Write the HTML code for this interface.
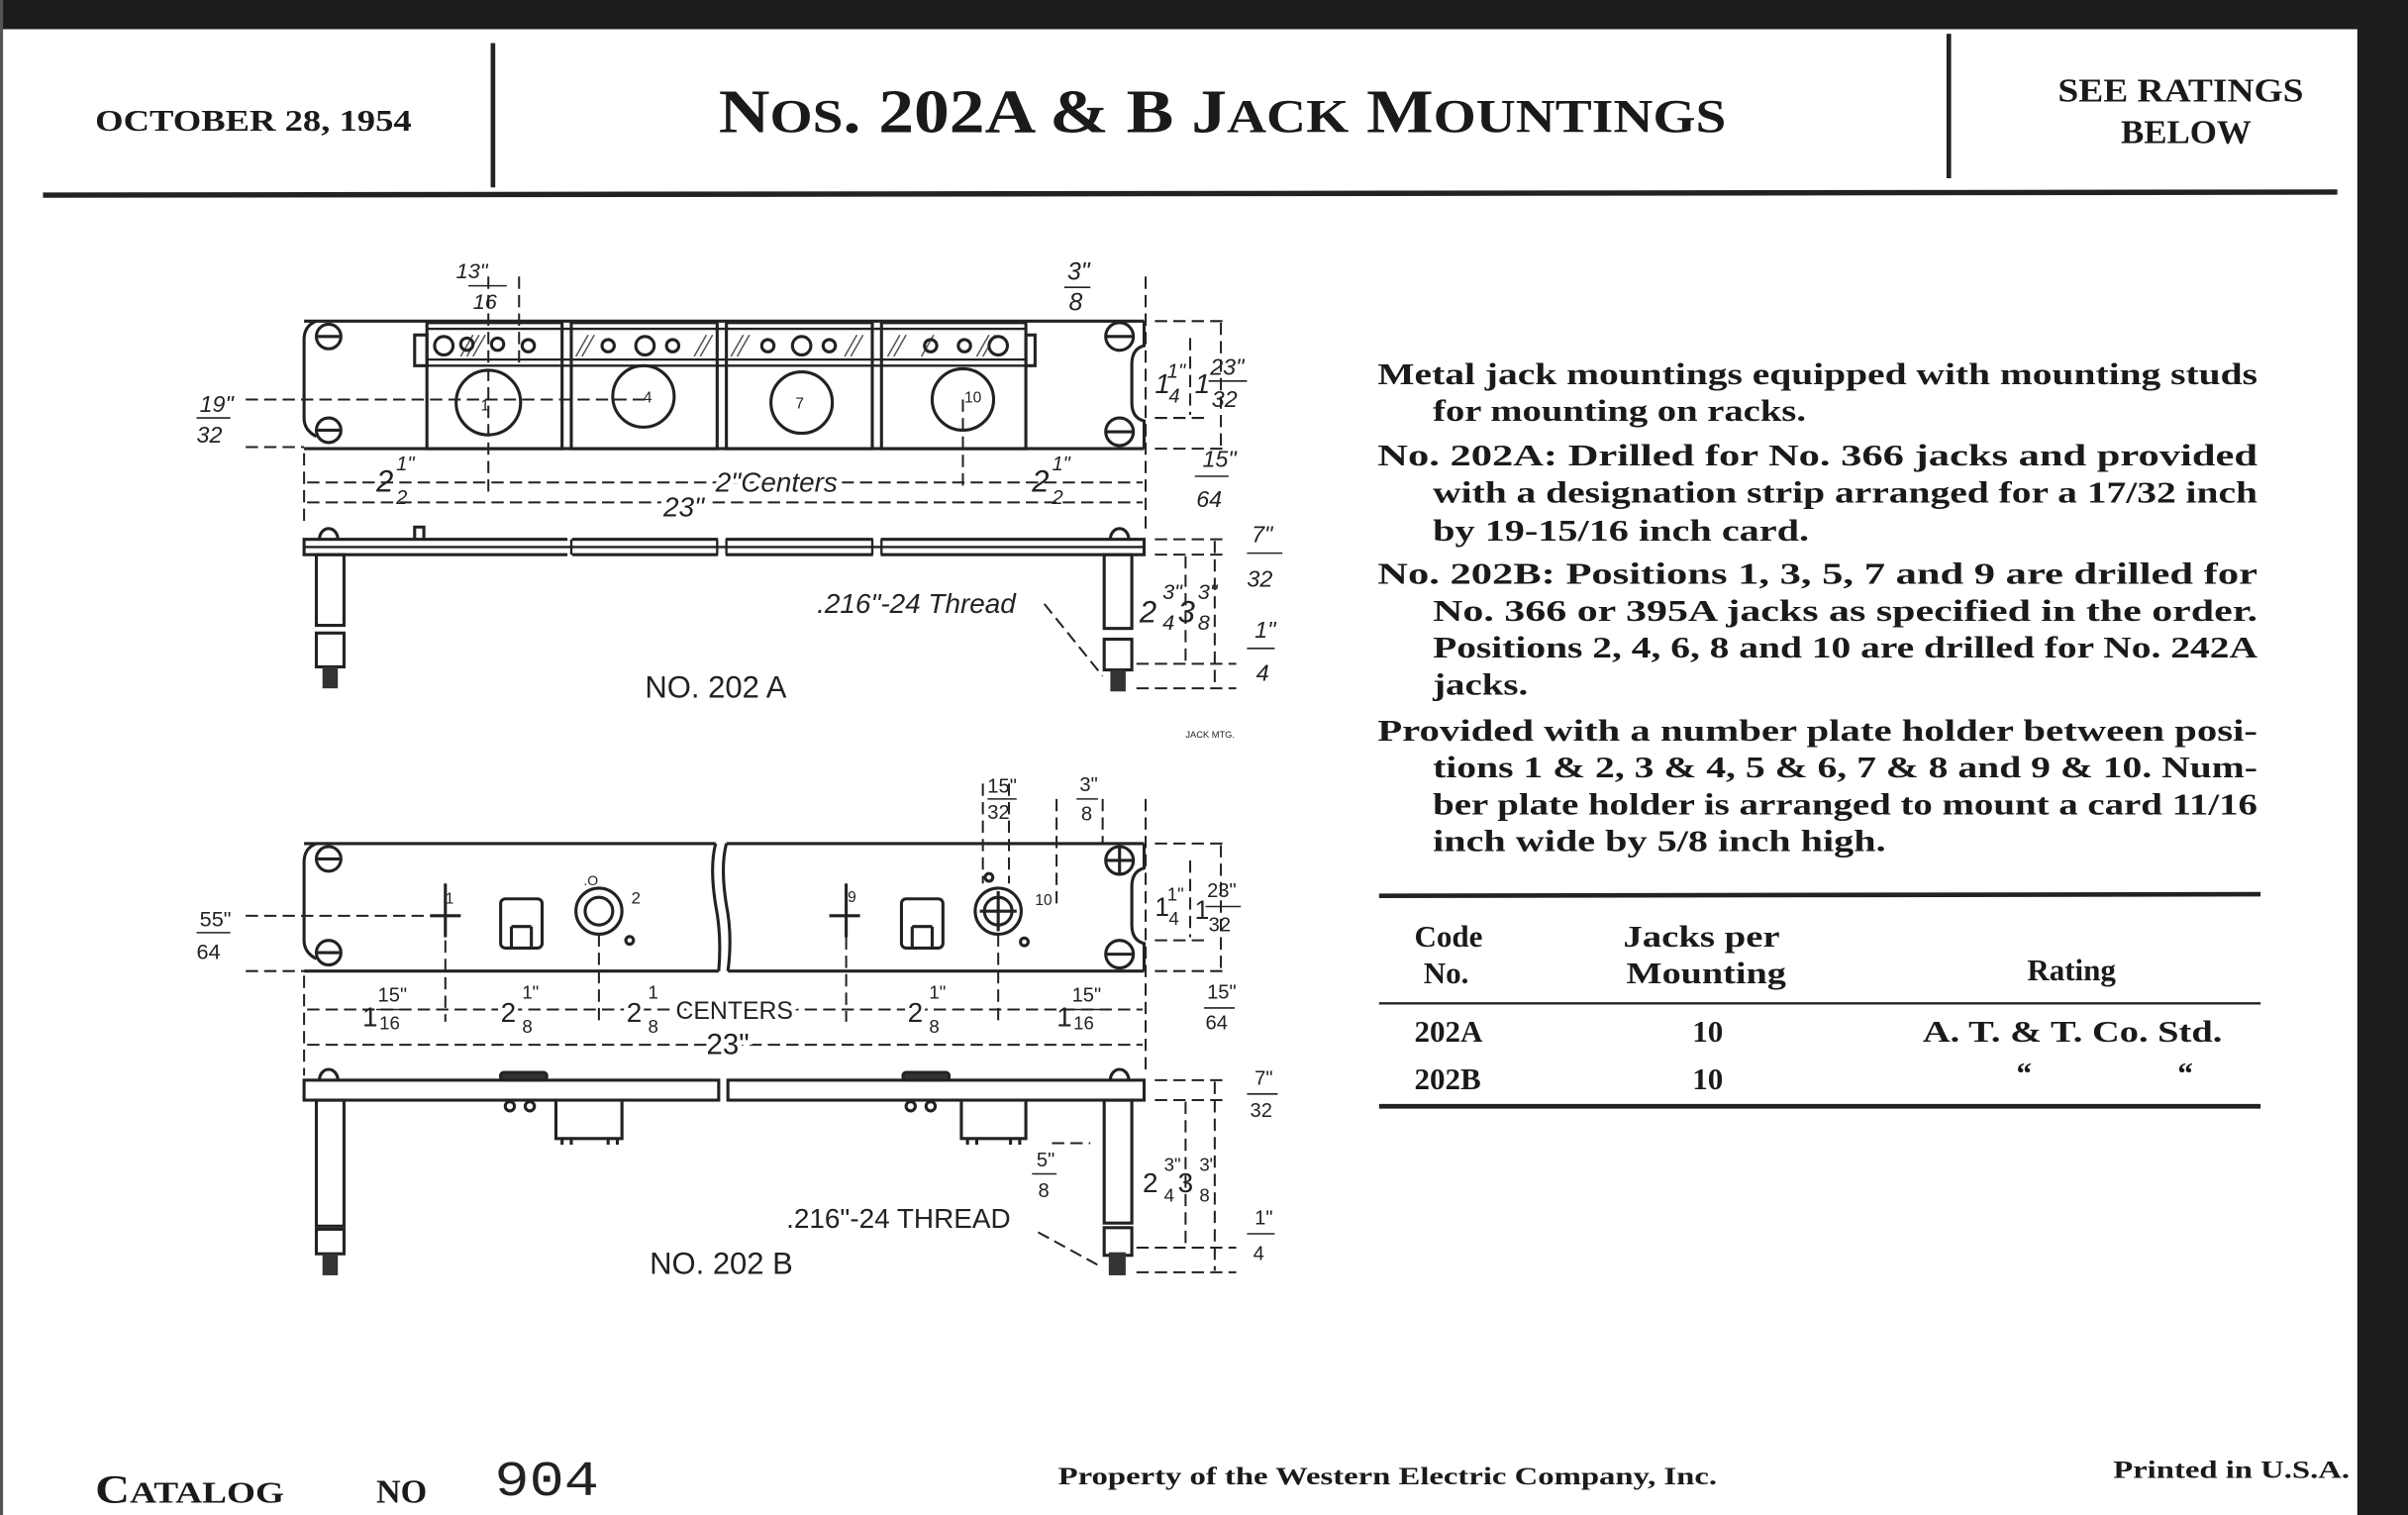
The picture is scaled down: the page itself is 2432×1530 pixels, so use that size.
<!DOCTYPE html>
<html><head><meta charset="utf-8"><style>
html,body{margin:0;padding:0;background:#fff;}
svg{display:block;}
.s{font-family:"Liberation Serif",serif;font-weight:bold;fill:#1a1a1a;}
.d{font-family:"Liberation Sans",sans-serif;fill:#222;}
.i{font-family:"Liberation Sans",sans-serif;font-style:italic;fill:#222;}
</style></head><body>
<svg width="2432" height="1530" viewBox="0 0 1568 986" preserveAspectRatio="none" xmlns="http://www.w3.org/2000/svg">
<rect width="1568" height="986" fill="#fff"/>
<rect x="0" y="0" width="1568" height="19" fill="#1c1c1c"/>
<rect x="1535" y="0" width="33" height="986" fill="#1c1c1c"/>
<rect x="0" y="0" width="2" height="986" fill="#555"/>

<!-- header -->
<text x="62" y="85" class="s" font-size="20" textLength="206" lengthAdjust="spacingAndGlyphs">OCTOBER 28, 1954</text>
<line x1="321" y1="28" x2="321" y2="122" stroke="#222" stroke-width="3"/>
<text x="468" y="86" class="s" font-size="40" textLength="656" lengthAdjust="spacingAndGlyphs">N<tspan font-size="31">OS</tspan>. 202A &amp; B J<tspan font-size="31">ACK</tspan> M<tspan font-size="31">OUNTINGS</tspan></text>
<line x1="1269" y1="22" x2="1269" y2="116" stroke="#222" stroke-width="3"/>
<text x="1340" y="66" class="s" font-size="22" textLength="160" lengthAdjust="spacingAndGlyphs">SEE RATINGS</text>
<text x="1381" y="93" class="s" font-size="22" textLength="85" lengthAdjust="spacingAndGlyphs">BELOW</text>
<line x1="28" y1="127" x2="1522" y2="125" stroke="#222" stroke-width="3.5"/>

<!-- description -->
<g class="s" font-size="20">
<text x="897" y="250" textLength="573" lengthAdjust="spacingAndGlyphs">Metal jack mountings equipped with mounting studs</text>
<text x="933" y="274" textLength="243" lengthAdjust="spacingAndGlyphs">for mounting on racks.</text>
<text x="897" y="303" textLength="573" lengthAdjust="spacingAndGlyphs">No. 202A:  Drilled for No. 366 jacks and provided</text>
<text x="933" y="327" textLength="537" lengthAdjust="spacingAndGlyphs">with a designation strip arranged for a 17/32 inch</text>
<text x="933" y="352" textLength="245" lengthAdjust="spacingAndGlyphs">by 19-15/16 inch card.</text>
<text x="897" y="380" textLength="573" lengthAdjust="spacingAndGlyphs">No. 202B:  Positions 1, 3, 5, 7 and 9 are drilled for</text>
<text x="933" y="404" textLength="537" lengthAdjust="spacingAndGlyphs">No. 366 or 395A jacks as specified in the order.</text>
<text x="933" y="428" textLength="537" lengthAdjust="spacingAndGlyphs">Positions 2, 4, 6, 8 and 10 are drilled for No. 242A</text>
<text x="933" y="452" textLength="62" lengthAdjust="spacingAndGlyphs">jacks.</text>
<text x="897" y="482" textLength="573" lengthAdjust="spacingAndGlyphs">Provided with a number plate holder between posi-</text>
<text x="933" y="506" textLength="537" lengthAdjust="spacingAndGlyphs">tions 1 &amp; 2, 3 &amp; 4, 5 &amp; 6, 7 &amp; 8 and 9 &amp; 10.  Num-</text>
<text x="933" y="530" textLength="537" lengthAdjust="spacingAndGlyphs">ber plate holder is arranged to mount a card 11/16</text>
<text x="933" y="554" textLength="295" lengthAdjust="spacingAndGlyphs">inch wide by 5/8 inch high.</text>
</g>

<!-- table -->
<line x1="898" y1="583" x2="1472" y2="582" stroke="#222" stroke-width="3"/>
<g class="s" font-size="20">
<text x="921" y="616">Code</text><text x="927" y="640">No.</text>
<text x="1057" y="616" textLength="102" lengthAdjust="spacingAndGlyphs">Jacks per</text><text x="1059" y="640" textLength="104" lengthAdjust="spacingAndGlyphs">Mounting</text>
<text x="1320" y="638">Rating</text>
<text x="921" y="678">202A</text><text x="1102" y="678">10</text><text x="1252" y="678" textLength="195" lengthAdjust="spacingAndGlyphs">A. T. &amp; T. Co. Std.</text>
<text x="921" y="709">202B</text><text x="1102" y="709">10</text><text x="1313" y="705">“</text><text x="1418" y="705">“</text>
</g>
<line x1="898" y1="653" x2="1472" y2="653" stroke="#222" stroke-width="1.5"/>
<line x1="898" y1="720" x2="1472" y2="720" stroke="#222" stroke-width="3"/>

<!-- footer -->
<text x="62" y="978" class="s" font-size="26" textLength="123" lengthAdjust="spacingAndGlyphs">C<tspan font-size="20">ATALOG</tspan></text>
<text x="245" y="978" class="s" font-size="22" font-family="Liberation Mono">NO</text>
<text x="322" y="973" font-family="Liberation Mono" font-size="32" fill="#222" textLength="68" lengthAdjust="spacingAndGlyphs">904</text>
<text x="689" y="966" class="s" font-size="16.5" textLength="429" lengthAdjust="spacingAndGlyphs">Property of the Western Electric Company, Inc.</text>
<text x="1376" y="962" class="s" font-size="16.5" textLength="154" lengthAdjust="spacingAndGlyphs">Printed in U.S.A.</text>

<!-- ============ DRAWING A ============ -->
<g stroke="#222" fill="none" stroke-width="2">
<path d="M198 209 H745 M198 292 H745"/>
<path d="M206 209 q-8 3 -8 12 V272 q0 8 8 12"/>
<path d="M745 209 V225 q-8 2 -8 12 V262 q0 10 8 12 V292"/>
<circle cx="214" cy="219" r="8"/><line x1="207" y1="219" x2="221" y2="219"/>
<circle cx="214" cy="280" r="8"/><line x1="207" y1="280" x2="221" y2="280"/>
<circle cx="729" cy="219" r="9"/><line x1="720" y1="219" x2="738" y2="219"/>
<circle cx="729" cy="281" r="9"/><line x1="720" y1="281" x2="738" y2="281"/>
<rect x="278" y="210" width="88" height="82"/>
<rect x="372" y="210" width="95" height="82"/>
<rect x="473" y="210" width="95" height="82"/>
<rect x="574" y="210" width="94" height="82"/>
<rect x="270" y="218" width="8" height="20"/>
<rect x="668" y="218" width="6" height="20"/>
<g stroke-width="1.5">
<line x1="278" y1="214" x2="668" y2="214"/><line x1="278" y1="234" x2="668" y2="234"/><line x1="278" y1="238" x2="668" y2="238"/>
</g>
<g stroke-width="1" stroke="#555">
<path d="M300 232 l8 -14 M304 232 l8 -14 M308 232 l8 -14 M375 232 l8 -14 M379 232 l8 -14 M452 232 l8 -14 M456 232 l8 -14 M476 232 l8 -14 M480 232 l8 -14 M550 232 l8 -14 M554 232 l8 -14 M578 232 l8 -14 M582 232 l8 -14 M600 232 l8 -14 M636 232 l8 -14 M640 232 l8 -14"/>
</g>
<circle cx="289" cy="225" r="6"/><circle cx="304" cy="224" r="4"/><circle cx="324" cy="224" r="4"/><circle cx="344" cy="225" r="4"/>
<circle cx="396" cy="225" r="4"/><circle cx="420" cy="225" r="6"/><circle cx="438" cy="225" r="4"/>
<circle cx="500" cy="225" r="4"/><circle cx="522" cy="225" r="6"/><circle cx="540" cy="225" r="4"/>
<circle cx="606" cy="225" r="4"/><circle cx="628" cy="225" r="4"/><circle cx="650" cy="225" r="6"/>
<circle cx="318" cy="262" r="21"/><circle cx="419" cy="258" r="20"/><circle cx="522" cy="262" r="20"/><circle cx="627" cy="260" r="20"/>
<rect x="198" y="351" width="547" height="10"/>
<path d="M208 351 a6 7 0 0 1 12 0 M723 351 a6 7 0 0 1 12 0 M270 351 v-8 h6 v8"/>
<rect x="206" y="361" width="18" height="46"/><rect x="206" y="412" width="18" height="22"/>
<rect x="719" y="361" width="18" height="48"/><rect x="719" y="416" width="18" height="20"/>
</g>
<rect x="210" y="434" width="10" height="14" fill="#333"/>
<rect x="723" y="436" width="10" height="14" fill="#333"/>
<g fill="#fff" stroke="#fff"><rect x="370" y="345" width="2" height="18"/><rect x="468" y="345" width="4" height="18"/><rect x="569" y="345" width="4" height="18"/></g>
<g stroke="#222" fill="none" stroke-width="1.5"><path d="M372 351 v10 M467 351 v10 M473 351 v10 M568 351 v10 M574 351 v10 M198 356 H745"/></g>

<g stroke="#222" fill="none" stroke-width="1.3" stroke-dasharray="8 4">
<line x1="160" y1="260" x2="420" y2="260"/>
<line x1="160" y1="291" x2="198" y2="291"/>
<line x1="198" y1="295" x2="198" y2="340"/>
<line x1="746" y1="180" x2="746" y2="345"/>
<line x1="318" y1="180" x2="318" y2="320"/>
<line x1="338" y1="180" x2="338" y2="240"/>
<line x1="627" y1="260" x2="627" y2="320"/>
<line x1="200" y1="314" x2="744" y2="314"/>
<line x1="200" y1="327" x2="744" y2="327"/>
<line x1="752" y1="209" x2="800" y2="209"/>
<line x1="752" y1="272" x2="785" y2="272"/>
<line x1="752" y1="292" x2="800" y2="292"/>
<line x1="752" y1="351" x2="800" y2="351"/>
<line x1="752" y1="361" x2="800" y2="361"/>
<line x1="740" y1="432" x2="805" y2="432"/>
<line x1="740" y1="448" x2="805" y2="448"/>
<line x1="795" y1="210" x2="795" y2="290"/>
<line x1="775" y1="220" x2="775" y2="270"/>
<line x1="791" y1="352" x2="791" y2="447"/>
<line x1="772" y1="362" x2="772" y2="431"/>
<line x1="680" y1="393" x2="718" y2="440"/>
</g>
<g fill="#222" font-size="20">
<text x="130" y="268" class="i" font-size="15">19"</text><text x="128" y="288" class="i" font-size="15">32</text>
<line x1="128" y1="272" x2="150" y2="272" stroke="#222"/>
<text x="297" y="181" class="i" font-size="14">13"</text><line x1="305" y1="186" x2="330" y2="186" stroke="#222"/><text x="308" y="201" class="i" font-size="14">16</text>
<text x="695" y="182" class="i" font-size="16">3"</text><line x1="693" y1="187" x2="710" y2="187" stroke="#222"/><text x="696" y="202" class="i" font-size="16">8</text>
<text x="245" y="320" class="i" font-size="20">2</text><text x="258" y="306" class="i" font-size="13">1"</text><text x="258" y="328" class="i" font-size="13">2</text>
<text x="466" y="320" class="i" font-size="18" fill="#222" stroke="#fff" stroke-width="6" paint-order="stroke">2"Centers</text>
<text x="432" y="336" class="i" font-size="18" stroke="#fff" stroke-width="6" paint-order="stroke">23"</text>
<text x="672" y="320" class="i" font-size="20">2</text><text x="685" y="306" class="i" font-size="13">1"</text><text x="685" y="328" class="i" font-size="13">2</text>
<text x="752" y="256" class="i" font-size="18">1</text><text x="760" y="246" class="i" font-size="13">1"</text><text x="761" y="262" class="i" font-size="13">4</text>
<text x="778" y="256" class="i" font-size="18">1</text><text x="788" y="244" class="i" font-size="15">23"</text><line x1="787" y1="248" x2="812" y2="248" stroke="#222"/><text x="789" y="265" class="i" font-size="15">32</text>
<text x="783" y="304" class="i" font-size="15">15"</text><line x1="778" y1="310" x2="800" y2="310" stroke="#222"/><text x="779" y="330" class="i" font-size="15">64</text>
<text x="815" y="353" class="i" font-size="15">7"</text><line x1="812" y1="360" x2="835" y2="360" stroke="#222"/><text x="812" y="382" class="i" font-size="15">32</text>
<text x="742" y="405" class="i" font-size="20">2</text><text x="757" y="390" class="i" font-size="14">3"</text><text x="757" y="410" class="i" font-size="14">4</text>
<text x="767" y="405" class="i" font-size="20">3</text><text x="780" y="390" class="i" font-size="14">3"</text><text x="780" y="410" class="i" font-size="14">8</text>
<text x="817" y="415" class="i" font-size="15">1"</text><line x1="812" y1="422" x2="830" y2="422" stroke="#222"/><text x="818" y="443" class="i" font-size="15">4</text>
<text x="532" y="399" class="i" font-size="18">.216"-24 Thread</text>
<text x="420" y="454" class="d" font-size="20">NO. 202 A</text>
<text x="772" y="480" class="d" font-size="6">JACK MTG.</text>
<text x="313" y="267" class="d" font-size="10">1</text><text x="419" y="262" class="d" font-size="10">4</text><text x="518" y="266" class="d" font-size="10">7</text><text x="628" y="262" class="d" font-size="10">10</text>
</g>

<!-- ============ DRAWING B ============ -->
<g stroke="#222" fill="none" stroke-width="2">
<path d="M198 549 H466 M473 549 H745 M198 632 H468 M474 632 H745"/>
<path d="M466 549 q-4 15 0 40 q4 20 2 43 M473 549 q-4 15 0 40 q4 20 1 43"/>
<path d="M206 549 q-8 3 -8 12 V612 q0 8 8 12"/>
<path d="M745 549 V565 q-8 2 -8 12 V602 q0 10 8 12 V632"/>
<circle cx="214" cy="559" r="8"/><line x1="207" y1="559" x2="221" y2="559"/>
<circle cx="214" cy="620" r="8"/><line x1="207" y1="620" x2="221" y2="620"/>
<circle cx="729" cy="560" r="9"/><line x1="720" y1="560" x2="738" y2="560"/><line x1="729" y1="551" x2="729" y2="569"/>
<circle cx="729" cy="621" r="9"/><line x1="720" y1="621" x2="738" y2="621"/>
<rect x="326" y="585" width="27" height="32" rx="3"/><path d="M333 617 v-14 M346 617 v-14 M333 603 h13"/>
<circle cx="390" cy="593" r="15"/><circle cx="390" cy="593" r="9"/>
<rect x="587" y="585" width="27" height="32" rx="3"/><path d="M594 617 v-14 M607 617 v-14 M594 603 h13"/>
<circle cx="650" cy="593" r="15"/><circle cx="650" cy="593" r="9"/><path d="M650 580 v26 M638 593 h24"/>
<circle cx="410" cy="612" r="2.5"/><circle cx="644" cy="571" r="2.5"/><circle cx="667" cy="613" r="2.5"/>
<path d="M280 596 h20 M290 575 v35 M540 596 h20 M551 575 v35"/>
<rect x="198" y="703" width="270" height="13"/><rect x="474" y="703" width="271" height="13"/>
<path d="M208 703 a6 7 0 0 1 12 0 M723 703 a6 7 0 0 1 12 0"/>
<rect x="326" y="698" width="30" height="5" rx="2" fill="#333"/><rect x="588" y="698" width="30" height="5" rx="2" fill="#333"/>
<circle cx="332" cy="720" r="3"/><circle cx="345" cy="720" r="3"/><circle cx="593" cy="720" r="3"/><circle cx="606" cy="720" r="3"/>
<path d="M362 716 V741 H405 V716 M626 716 V741 H668 V716"/>
<path d="M366 741 v4 M372 741 v4 M396 741 v4 M402 741 v4 M630 741 v4 M636 741 v4 M658 741 v4 M664 741 v4"/>
<rect x="206" y="716" width="18" height="82"/><rect x="206" y="800" width="18" height="16"/>
<rect x="719" y="716" width="18" height="80"/><rect x="719" y="799" width="18" height="18"/>
</g>
<rect x="210" y="816" width="10" height="14" fill="#333"/>
<rect x="722" y="815" width="11" height="15" fill="#333"/>

<g stroke="#222" fill="none" stroke-width="1.3" stroke-dasharray="8 4">
<line x1="160" y1="596" x2="280" y2="596"/>
<line x1="160" y1="632" x2="198" y2="632"/>
<line x1="198" y1="635" x2="198" y2="700"/>
<line x1="746" y1="520" x2="746" y2="700"/>
<line x1="290" y1="612" x2="290" y2="665"/>
<line x1="390" y1="608" x2="390" y2="665"/>
<line x1="551" y1="610" x2="551" y2="665"/>
<line x1="650" y1="608" x2="650" y2="665"/>
<line x1="200" y1="657" x2="744" y2="657"/>
<line x1="200" y1="680" x2="744" y2="680"/>
<line x1="640" y1="510" x2="640" y2="575"/>
<line x1="657" y1="510" x2="657" y2="575"/>
<line x1="688" y1="520" x2="688" y2="590"/>
<line x1="718" y1="520" x2="718" y2="550"/>
<line x1="752" y1="549" x2="800" y2="549"/>
<line x1="752" y1="612" x2="785" y2="612"/>
<line x1="752" y1="632" x2="800" y2="632"/>
<line x1="752" y1="703" x2="800" y2="703"/>
<line x1="752" y1="716" x2="800" y2="716"/>
<line x1="740" y1="812" x2="805" y2="812"/>
<line x1="740" y1="828" x2="805" y2="828"/>
<line x1="795" y1="550" x2="795" y2="630"/>
<line x1="775" y1="560" x2="775" y2="610"/>
<line x1="791" y1="704" x2="791" y2="827"/>
<line x1="772" y1="717" x2="772" y2="811"/>
<line x1="676" y1="802" x2="718" y2="825"/>
<line x1="685" y1="744" x2="710" y2="744"/>
</g>
<g fill="#222">
<line x1="128" y1="607" x2="150" y2="607" stroke="#222"/>
<text x="130" y="603" class="d" font-size="14">55"</text><text x="128" y="624" class="d" font-size="14">64</text>
<text x="236" y="668" class="d" font-size="18">1</text><text x="246" y="652" class="d" font-size="13">15"</text><line x1="245" y1="657" x2="263" y2="657" stroke="#222"/><text x="247" y="670" class="d" font-size="12">16</text>
<text x="326" y="665" class="d" font-size="18" stroke="#fff" stroke-width="5" paint-order="stroke">2</text><text x="340" y="650" class="d" font-size="12">1"</text><text x="340" y="672" class="d" font-size="12">8</text>
<text x="408" y="665" class="d" font-size="18" stroke="#fff" stroke-width="5" paint-order="stroke">2</text><text x="422" y="650" class="d" font-size="12">1</text><text x="422" y="672" class="d" font-size="12">8</text>
<text x="440" y="663" class="d" font-size="16" stroke="#fff" stroke-width="6" paint-order="stroke">CENTERS</text>
<text x="591" y="665" class="d" font-size="18" stroke="#fff" stroke-width="5" paint-order="stroke">2</text><text x="605" y="650" class="d" font-size="12">1"</text><text x="605" y="672" class="d" font-size="12">8</text>
<text x="688" y="668" class="d" font-size="18">1</text><text x="698" y="652" class="d" font-size="13">15"</text><line x1="697" y1="657" x2="716" y2="657" stroke="#222"/><text x="699" y="670" class="d" font-size="12">16</text>
<text x="460" y="686" class="d" font-size="19" stroke="#fff" stroke-width="6" paint-order="stroke">23"</text>
<text x="643" y="516" class="d" font-size="13">15"</text><line x1="643" y1="520" x2="662" y2="520" stroke="#222"/><text x="643" y="533" class="d" font-size="13">32</text>
<text x="703" y="515" class="d" font-size="13">3"</text><line x1="701" y1="520" x2="715" y2="520" stroke="#222"/><text x="704" y="534" class="d" font-size="13">8</text>
<text x="752" y="596" class="d" font-size="17">1</text><text x="760" y="586" class="d" font-size="12">1"</text><text x="761" y="602" class="d" font-size="12">4</text>
<text x="778" y="598" class="d" font-size="17">1</text><text x="786" y="584" class="d" font-size="13">23"</text><line x1="785" y1="590" x2="808" y2="590" stroke="#222"/><text x="787" y="606" class="d" font-size="13">32</text>
<text x="786" y="650" class="d" font-size="13">15"</text><line x1="784" y1="656" x2="804" y2="656" stroke="#222"/><text x="785" y="670" class="d" font-size="13">64</text>
<text x="817" y="706" class="d" font-size="13">7"</text><line x1="812" y1="712" x2="832" y2="712" stroke="#222"/><text x="814" y="727" class="d" font-size="13">32</text>
<text x="675" y="759" class="d" font-size="13">5"</text><line x1="672" y1="764" x2="688" y2="764" stroke="#222"/><text x="676" y="779" class="d" font-size="13">8</text>
<text x="744" y="776" class="d" font-size="18">2</text><text x="758" y="762" class="d" font-size="12">3"</text><text x="758" y="782" class="d" font-size="12">4</text>
<text x="767" y="776" class="d" font-size="18">3</text><text x="781" y="762" class="d" font-size="12">3"</text><text x="781" y="782" class="d" font-size="12">8</text>
<text x="817" y="797" class="d" font-size="13">1"</text><line x1="812" y1="803" x2="830" y2="803" stroke="#222"/><text x="816" y="820" class="d" font-size="13">4</text>
<text x="512" y="799" class="d" font-size="18">.216"-24 THREAD</text>
<text x="423" y="829" class="d" font-size="20">NO. 202 B</text>
<text x="290" y="588" class="d" font-size="10">1</text><text x="411" y="588" class="d" font-size="11">2</text><text x="380" y="576" class="d" font-size="9">.O</text>
<text x="552" y="587" class="d" font-size="10">9</text><text x="674" y="589" class="d" font-size="10">10</text>
</g>
</svg>
</body></html>
